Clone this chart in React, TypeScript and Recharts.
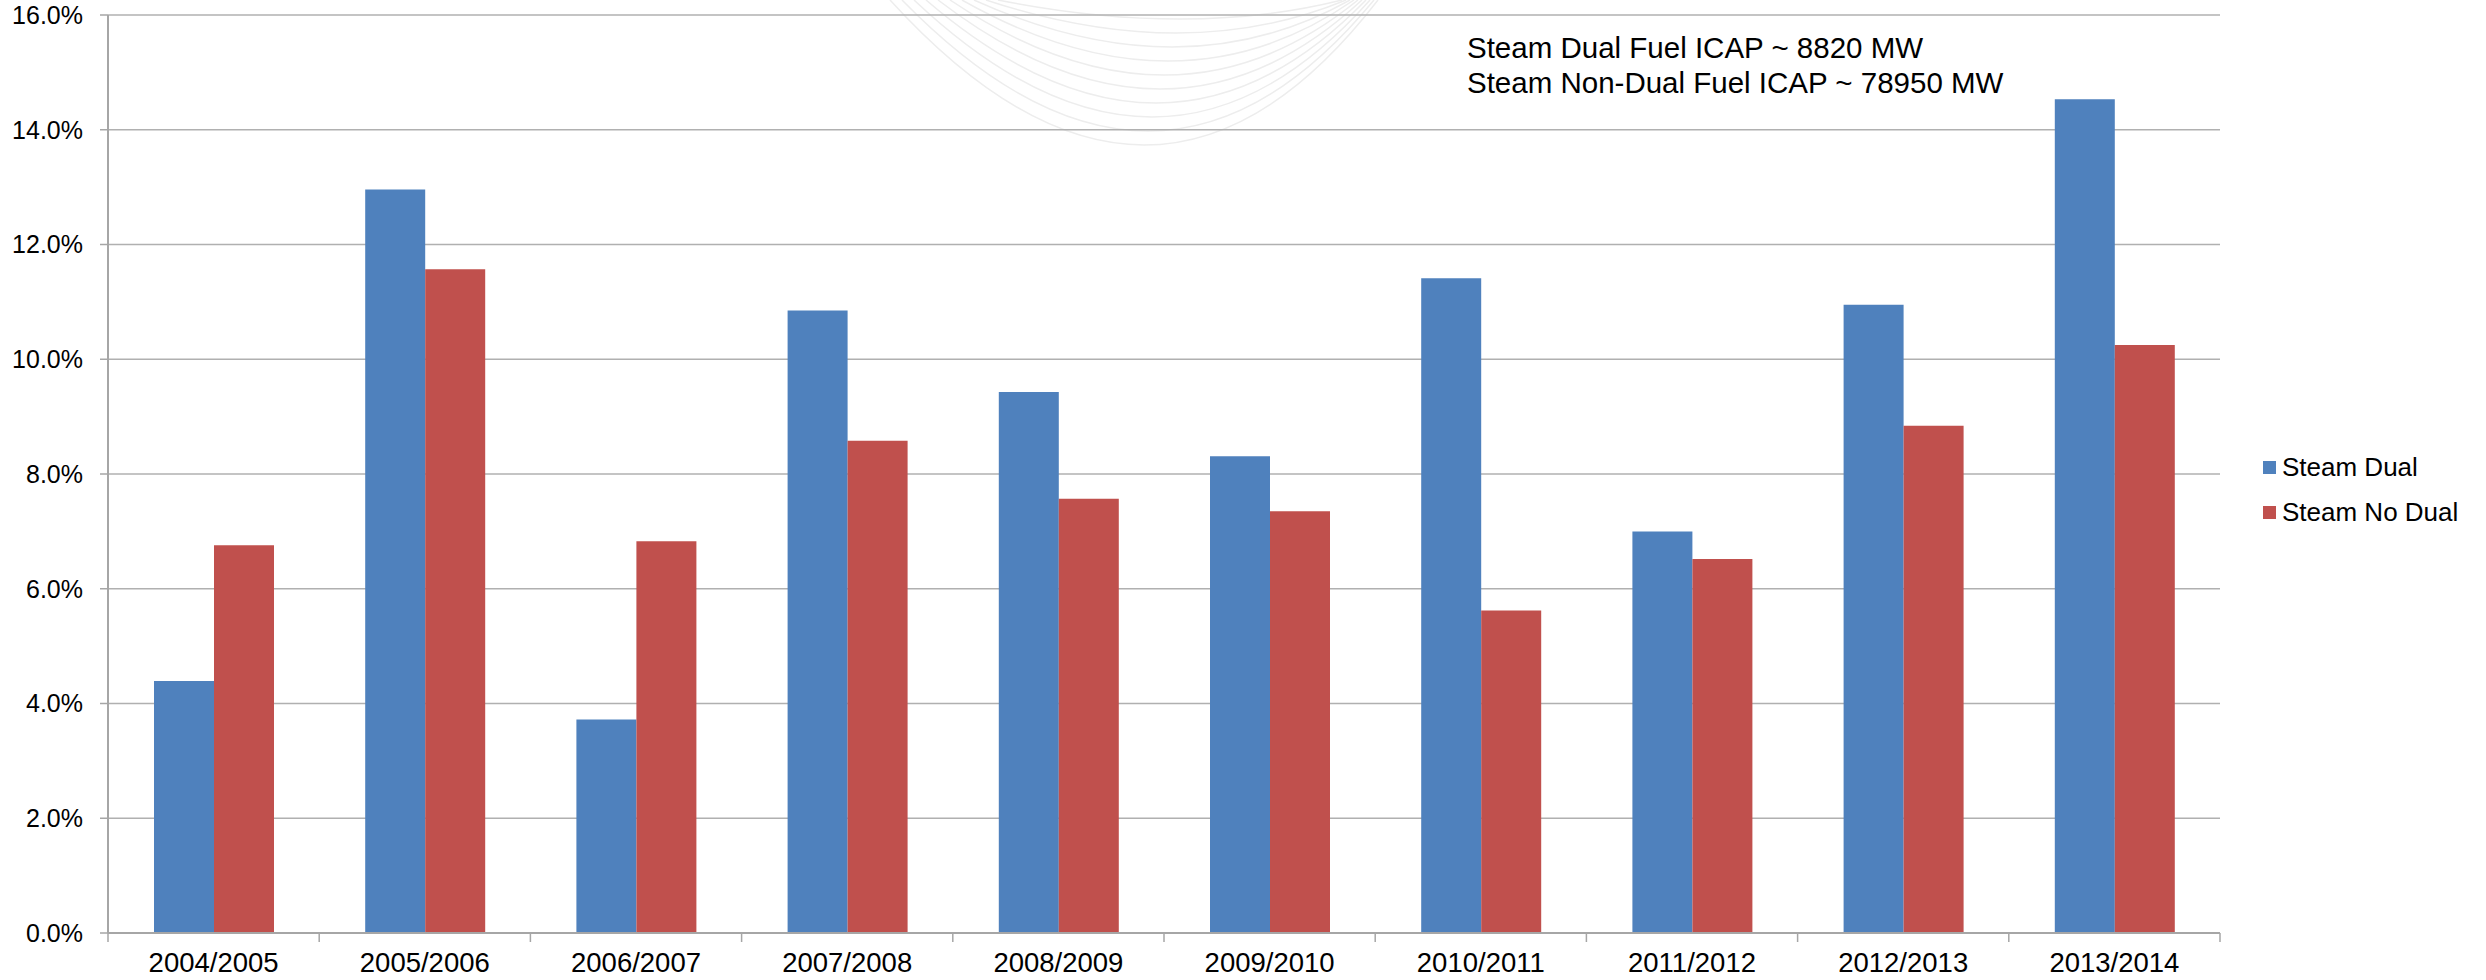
import React from "react";
import { BarChart, Bar, XAxis, YAxis, CartesianGrid } from "recharts";

// valores (% de horas / capacidad)
const categories = [
  "2004/2005",
  "2005/2006",
  "2006/2007",
  "2007/2008",
  "2008/2009",
  "2009/2010",
  "2010/2011",
  "2011/2012",
  "2012/2013",
  "2013/2014",
];
const steamDual = [4.39, 12.96, 3.72, 10.85, 9.43, 8.31, 11.41, 7.0, 10.95, 14.53];
const steamNoDual = [6.76, 11.57, 6.83, 8.58, 7.57, 7.35, 5.62, 6.52, 8.84, 10.25];
const yTicks = [0, 2, 4, 6, 8, 10, 12, 14, 16];
const noteLines = ["Steam Dual Fuel ICAP ~ 8820 MW", "Steam Non-Dual Fuel ICAP ~ 78950 MW"];

const BLUE = "#4F81BD";
const RED = "#C0504D";
const AXIS = "#a6a6a6";

const series = [
  { key: "dual", name: "Steam Dual", color: BLUE },
  { key: "noDual", name: "Steam No Dual", color: RED },
];

const data = categories.map((year, i) => ({
  year,
  dual: steamDual[i],
  noDual: steamNoDual[i],
}));

// etiqueta + marcas entre categorias (como Excel)
function CategoryTick(props: any) {
  const { x, y, payload, width, visibleTicksCount, index } = props;
  const half =
    typeof payload?.offset === "number" && payload.offset > 0
      ? payload.offset
      : width / visibleTicksCount / 2;
  const last = index === visibleTicksCount - 1;
  return (
    <g>
      <line x1={x - half} x2={x - half} y1={y} y2={y + 9} stroke={AXIS} strokeWidth={1.5} />
      {last && (
        <line x1={x + half} x2={x + half} y1={y} y2={y + 9} stroke={AXIS} strokeWidth={1.5} />
      )}
      <text x={x} y={y + 19} dy="0.71em" textAnchor="middle" fill="#000" fontSize={27.5}>
        {payload.value}
      </text>
    </g>
  );
}

// arcos tenues del logo de fondo
function Watermark() {
  const arcs = [];
  for (let i = 0; i < 10; i++) {
    const yb = 145 - i * 14;
    const left = 890 + i * 12;
    const right = 1378 - i * 4;
    const cx = (left + right) / 2 + 20;
    arcs.push(
      <path
        key={i}
        d={`M ${left} 0 Q ${cx} ${yb * 2} ${right} 0`}
        fill="none"
        stroke="#ededed"
        strokeWidth={1.5}
      />
    );
  }
  return (
    <svg width={2486} height={200} style={{ position: "absolute", left: 0, top: 0 }}>
      {arcs}
    </svg>
  );
}

export default function App() {
  return (
    <div
      style={{
        position: "absolute",
        left: 0,
        top: 0,
        width: 2486,
        height: 980,
        background: "#fff",
        fontFamily: "'Liberation Sans', Arial, sans-serif",
      }}
    >
      <Watermark />
      <div style={{ position: "absolute", left: 0, top: 0 }}>
        <BarChart
          width={2486}
          height={980}
          data={data}
          margin={{ top: 15, right: 266, bottom: 0, left: 0 }}
          barGap={0}
          barSize={60}
        >
          <CartesianGrid vertical={false} stroke="#b0b0b0" strokeWidth={1.5} />
          <XAxis
            dataKey="year"
            height={47}
            interval={0}
            tickLine={false}
            tickSize={0}
            tickMargin={0}
            axisLine={{ stroke: AXIS, strokeWidth: 2 }}
            tick={CategoryTick}
          />
          <YAxis
            width={108}
            domain={[0, 16]}
            ticks={yTicks}
            interval={0}
            tickSize={8}
            tickMargin={17}
            tickFormatter={(v: number) => `${v.toFixed(1)}%`}
            axisLine={{ stroke: AXIS, strokeWidth: 2 }}
            tickLine={{ stroke: AXIS, strokeWidth: 1.5 }}
            tick={{ fill: "#000", fontSize: 25 }}
          />
          {series.map((s) => (
            <Bar key={s.key} dataKey={s.key} name={s.name} fill={s.color} isAnimationActive={false} />
          ))}
        </BarChart>
      </div>

      {/* leyenda */}
      <div style={{ position: "absolute", left: 2263, top: 445, fontSize: 26, color: "#000" }}>
        {series.map((s) => (
          <div key={s.key} style={{ display: "flex", alignItems: "center", height: 45 }}>
            <div style={{ width: 13, height: 13, background: s.color, marginRight: 6 }} />
            {s.name}
          </div>
        ))}
      </div>

      {/* nota de capacidad */}
      <div
        style={{
          position: "absolute",
          left: 1467,
          top: 30,
          fontSize: 29.5,
          lineHeight: "35px",
          color: "#000",
          whiteSpace: "nowrap",
        }}
      >
        {noteLines.map((t) => (
          <div key={t}>{t}</div>
        ))}
      </div>
    </div>
  );
}
